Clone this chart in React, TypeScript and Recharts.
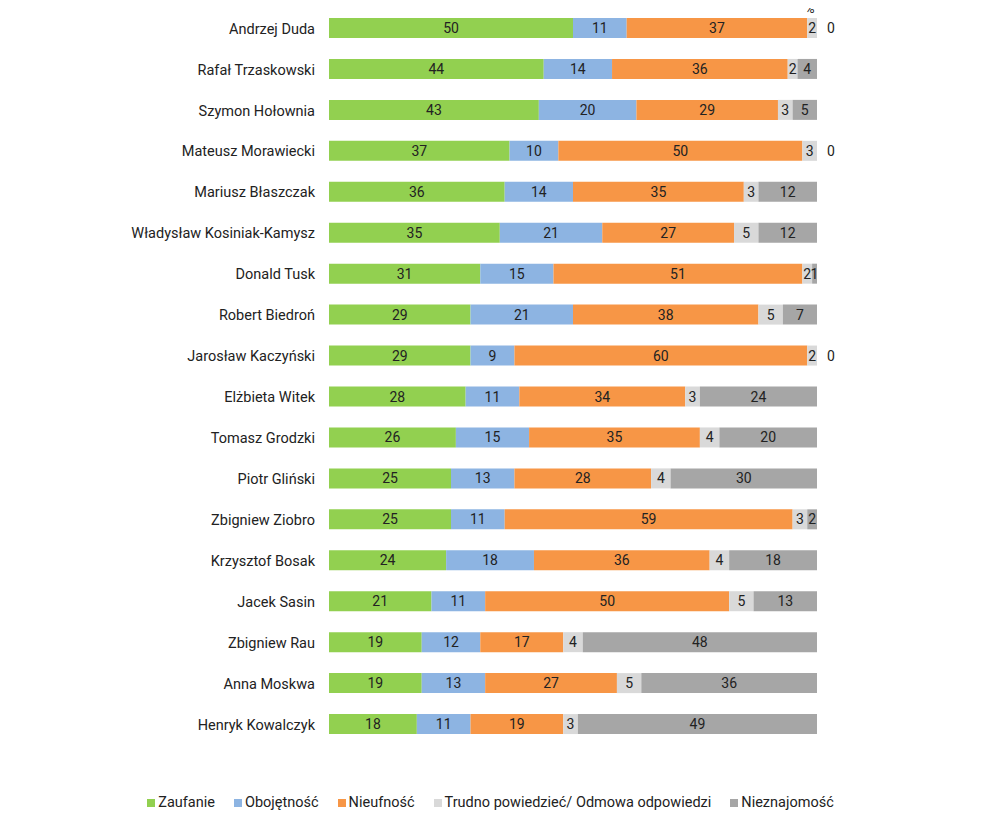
import React from "react";
import { BarChart, Bar, XAxis, YAxis, LabelList, Legend } from "recharts";

const politicians = [
  "Andrzej Duda",
  "Rafał Trzaskowski",
  "Szymon Hołownia",
  "Mateusz Morawiecki",
  "Mariusz Błaszczak",
  "Władysław Kosiniak-Kamysz",
  "Donald Tusk",
  "Robert Biedroń",
  "Jarosław Kaczyński",
  "Elżbieta Witek",
  "Tomasz Grodzki",
  "Piotr Gliński",
  "Zbigniew Ziobro",
  "Krzysztof Bosak",
  "Jacek Sasin",
  "Zbigniew Rau",
  "Anna Moskwa",
  "Henryk Kowalczyk",
];

const zaufanie = [50, 44, 43, 37, 36, 35, 31, 29, 29, 28, 26, 25, 25, 24, 21, 19, 19, 18];
const obojetnosc = [11, 14, 20, 10, 14, 21, 15, 21, 9, 11, 15, 13, 11, 18, 11, 12, 13, 11];
const nieufnosc = [37, 36, 29, 50, 35, 27, 51, 38, 60, 34, 35, 28, 59, 36, 50, 17, 27, 19];
const trudno = [2, 2, 3, 3, 3, 5, 2, 5, 2, 3, 4, 4, 3, 4, 5, 4, 5, 3];
const nieznajomosc = [0, 4, 5, 0, 12, 12, 1, 7, 0, 24, 20, 30, 2, 18, 13, 48, 36, 49];

const series = [
  { key: "zaufanie", name: "Zaufanie", color: "#92D050" },
  { key: "obojetnosc", name: "Obojętność", color: "#8DB4E2" },
  { key: "nieufnosc", name: "Nieufność", color: "#F79646" },
  { key: "trudno", name: "Trudno powiedzieć/ Odmowa odpowiedzi", color: "#D9D9D9" },
  { key: "nieznajomosc", name: "Nieznajomość", color: "#A6A6A6" },
];

const data = politicians.map((name, i) => ({
  name,
  zaufanie: zaufanie[i],
  obojetnosc: obojetnosc[i],
  nieufnosc: nieufnosc[i],
  trudno: trudno[i],
  nieznajomosc: nieznajomosc[i],
}));

const FONT = "Roboto, 'Noto Sans', Arial, sans-serif";

const labelText = (x: number, y: number, v: any) => (
  <text
    x={x}
    y={y}
    textAnchor="middle"
    dominantBaseline="central"
    fontSize={14}
    fontFamily={FONT}
    fill="#222"
  >
    {v}
  </text>
);

const SegmentLabel = (props: any) => {
  const { x, y, width, height, value } = props;
  if (!value) return null;
  return labelText(x + width / 2, y + height / 2, value);
};

// the trudno segment closes the bar when nieznajomosc is 0, so its "0" goes next to it
const TrudnoLabel = (props: any) => {
  const { x, y, width, height, value, index } = props;
  const zero = nieznajomosc[index] === 0;
  return (
    <g>
      {labelText(x + width / 2, y + height / 2, value)}
      {zero && labelText(x + width + 14, y + height / 2, 0)}
    </g>
  );
};

const LegendContent = () => (
  <div
    style={{
      display: "flex",
      justifyContent: "center",
      fontFamily: FONT,
      fontSize: 14.5,
      color: "#222",
      paddingLeft: 0,
    }}
  >
    {series.map((s) => (
      <div key={s.key} style={{ display: "flex", alignItems: "center", marginRight: 19 }}>
        <span style={{ width: 8, height: 8, background: s.color, marginRight: 3, display: "inline-block" }} />
        <span>{s.name}</span>
      </div>
    ))}
  </div>
);

export default function App() {
  return (
    <div style={{ fontFamily: FONT, position: "relative" }}>
      <BarChart
        width={984}
        height={813}
        data={data}
        layout="vertical"
        barSize={20}
        margin={{ top: 0, right: 175, left: 0, bottom: 59 }}
      >
        <XAxis type="number" domain={[0, 100]} hide />
        <YAxis
          type="category"
          dataKey="name"
          width={321}
          axisLine={false}
          tickLine={false}
          tickSize={0}
          tickMargin={14}
          interval={0}
          tick={{ fontSize: 14.5, fill: "#222", fontFamily: FONT }}
        />
        {series.map((s) => (
          <Bar key={s.key} dataKey={s.key} name={s.name} stackId="a" fill={s.color} isAnimationActive={false}>
            <LabelList dataKey={s.key} content={s.key === "trudno" ? TrudnoLabel : SegmentLabel} />
          </Bar>
        ))}
        <Legend
          verticalAlign="bottom"
          content={LegendContent}
          wrapperStyle={{ top: 786, left: 0, width: 984 }}
        />
      </BarChart>
      <span
        style={{
          position: "absolute",
          left: 797,
          top: -6,
          fontSize: 13,
          lineHeight: "13px",
          color: "#222",
        }}
      >
        %
      </span>
    </div>
  );
}
